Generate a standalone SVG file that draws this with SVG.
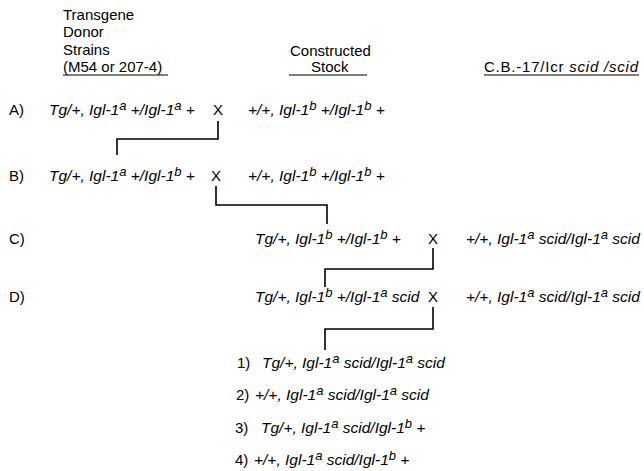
<svg xmlns="http://www.w3.org/2000/svg" width="644" height="471" viewBox="0 0 644 471">
  <style>
    text { font-family: "Liberation Sans", Arial, sans-serif; font-size: 15px; fill: #000; }
    .it { font-style: italic; font-size: 15.5px; }
    .sup { font-size: 13px; }
    .lbl { font-size: 15px; }
    .cross { font-size: 15px; }
    .conn { fill: none; stroke: #000; stroke-width: 1.6; }
    .ul { stroke: #000; stroke-width: 1.2; }
  </style>

  <!-- column headings -->
  <g id="head-donor">
    <text x="63" y="20">Transgene</text>
    <text x="63" y="37">Donor</text>
    <text x="63" y="55">Strains</text>
    <text x="63" y="72">(M54 or 207-4)</text>
    <line class="ul" x1="63" y1="75" x2="168" y2="75"/>
  </g>
  <g id="head-constructed">
    <text x="290" y="56">Constructed</text>
    <text x="311" y="72">Stock</text>
    <line class="ul" x1="289" y1="75" x2="367" y2="75"/>
  </g>
  <g id="head-cb17">
    <text x="484" y="72" font-size="16" textLength="154" lengthAdjust="spacing">C.B.-17/Icr <tspan font-style="italic">scid /scid</tspan></text>
    <line class="ul" x1="484" y1="75" x2="639" y2="75"/>
  </g>

  <!-- row A -->
  <g id="row-a">
    <text class="lbl" x="9" y="115">A)</text>
    <text class="it" x="49" y="115">Tg/+, Igl-1<tspan class="sup" dy="-5">a</tspan><tspan dy="5"> +/Igl-1</tspan><tspan class="sup" dy="-5">a</tspan><tspan dy="5"> +</tspan></text>
    <text class="cross" x="213" y="115">X</text>
    <text class="it" x="248" y="115">+/+, Igl-1<tspan class="sup" dy="-5">b</tspan><tspan dy="5"> +/Igl-1</tspan><tspan class="sup" dy="-5">b</tspan><tspan dy="5"> +</tspan></text>
  </g>

  <!-- row B -->
  <g id="row-b">
    <text class="lbl" x="9" y="181">B)</text>
    <text class="it" x="49" y="181">Tg/+, Igl-1<tspan class="sup" dy="-5">a</tspan><tspan dy="5"> +/Igl-1</tspan><tspan class="sup" dy="-5">b</tspan><tspan dy="5"> +</tspan></text>
    <text class="cross" x="211" y="181">X</text>
    <text class="it" x="248" y="181">+/+, Igl-1<tspan class="sup" dy="-5">b</tspan><tspan dy="5"> +/Igl-1</tspan><tspan class="sup" dy="-5">b</tspan><tspan dy="5"> +</tspan></text>
  </g>

  <!-- row C -->
  <g id="row-c">
    <text class="lbl" x="9" y="244">C)</text>
    <text class="it" x="255" y="244">Tg/+, Igl-1<tspan class="sup" dy="-5">b</tspan><tspan dy="5"> +/Igl-1</tspan><tspan class="sup" dy="-5">b</tspan><tspan dy="5"> +</tspan></text>
    <text class="cross" x="428" y="244">X</text>
    <text class="it" x="466" y="244">+/+, Igl-1<tspan class="sup" dy="-5">a</tspan><tspan dy="5"> scid/Igl-1</tspan><tspan class="sup" dy="-5">a</tspan><tspan dy="5"> scid</tspan></text>
  </g>

  <!-- row D -->
  <g id="row-d">
    <text class="lbl" x="9" y="302">D)</text>
    <text class="it" x="255" y="302">Tg/+, Igl-1<tspan class="sup" dy="-5">b</tspan><tspan dy="5"> +/Igl-1</tspan><tspan class="sup" dy="-5">a</tspan><tspan dy="5"> scid</tspan></text>
    <text class="cross" x="428" y="302">X</text>
    <text class="it" x="466" y="302">+/+, Igl-1<tspan class="sup" dy="-5">a</tspan><tspan dy="5"> scid/Igl-1</tspan><tspan class="sup" dy="-5">a</tspan><tspan dy="5"> scid</tspan></text>
  </g>

  <!-- offspring genotypes -->
  <g id="offspring-1">
    <text class="lbl" x="237" y="368">1)</text>
    <text class="it" x="262" y="368">Tg/+, Igl-1<tspan class="sup" dy="-5">a</tspan><tspan dy="5"> scid/Igl-1</tspan><tspan class="sup" dy="-5">a</tspan><tspan dy="5"> scid</tspan></text>
  </g>
  <g id="offspring-2">
    <text class="lbl" x="236" y="400">2)</text>
    <text class="it" x="255" y="400">+/+, Igl-1<tspan class="sup" dy="-5">a</tspan><tspan dy="5"> scid/Igl-1</tspan><tspan class="sup" dy="-5">a</tspan><tspan dy="5"> scid</tspan></text>
  </g>
  <g id="offspring-3">
    <text class="lbl" x="235" y="433">3)</text>
    <text class="it" x="261" y="433">Tg/+, Igl-1<tspan class="sup" dy="-5">a</tspan><tspan dy="5"> scid/Igl-1</tspan><tspan class="sup" dy="-5">b</tspan><tspan dy="5"> +</tspan></text>
  </g>
  <g id="offspring-4">
    <text class="lbl" x="235" y="465">4)</text>
    <text class="it" x="254" y="465">+/+, Igl-1<tspan class="sup" dy="-5">a</tspan><tspan dy="5"> scid/Igl-1</tspan><tspan class="sup" dy="-5">b</tspan><tspan dy="5"> +</tspan></text>
  </g>

  <!-- cross connectors -->
  <g id="connectors">
    <path class="conn" d="M218,121 V139 H117 V155"/>
    <path class="conn" d="M216,186 V205 H327 V224"/>
    <path class="conn" d="M433,248 V269 H325 V287"/>
    <path class="conn" d="M433,307 V329 H325 V350"/>
  </g>
</svg>
